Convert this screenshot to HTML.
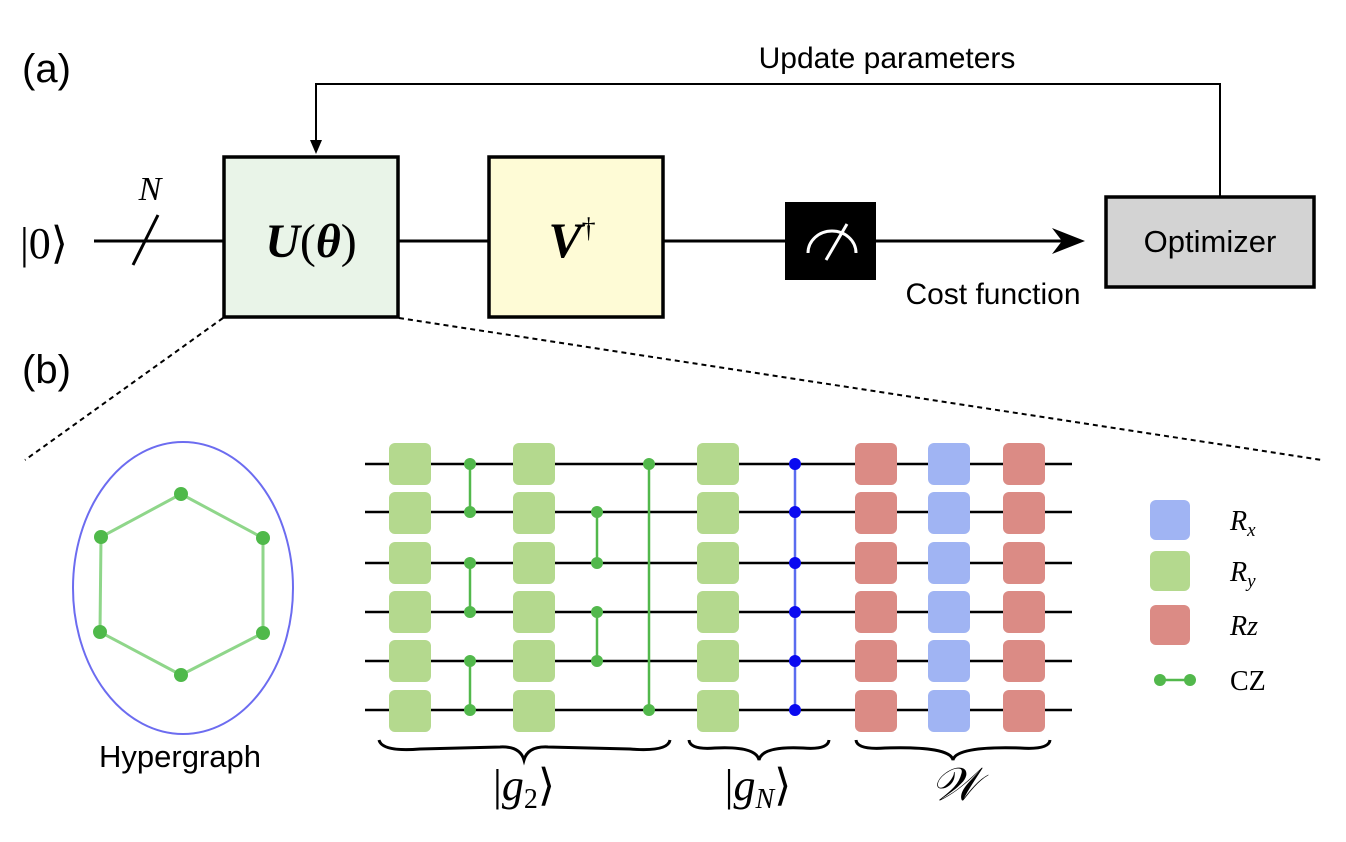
<!DOCTYPE html>
<html><head><meta charset="utf-8"><style>
html,body{margin:0;padding:0;background:#fff;}
svg{display:block;}
.s{font-family:"Liberation Sans",sans-serif;}
.m{font-family:"Liberation Serif",serif;}
</style></head><body>
<svg width="1346" height="842" viewBox="0 0 1346 842" xmlns="http://www.w3.org/2000/svg">
<defs>
<g id="col">
<rect x="0" y="443" width="42" height="42" rx="6"/><rect x="0" y="492" width="42" height="42" rx="6"/>
<rect x="0" y="542" width="42" height="42" rx="6"/><rect x="0" y="591" width="42" height="42" rx="6"/>
<rect x="0" y="640" width="42" height="42" rx="6"/><rect x="0" y="690" width="42" height="42" rx="6"/>
</g>
</defs>
<text x="22" y="82" class="s" font-size="40">(a)</text>
<text x="22" y="383" class="s" font-size="40">(b)</text>
<!-- feedback -->
<polyline points="1220,197 1220,84 316,84 316,144" fill="none" stroke="#000" stroke-width="2"/>
<polygon points="310,140 322,140 316,154" fill="#000"/>
<text x="887" y="68" class="s" font-size="30" text-anchor="middle">Update parameters</text>
<!-- wire -->
<line x1="94" y1="241" x2="1070" y2="241" stroke="#000" stroke-width="3"/>
<polygon points="1085,241 1052,228 1062,241 1052,254" fill="#000"/>
<line x1="133" y1="265" x2="158" y2="215" stroke="#000" stroke-width="3"/>
<text x="150" y="200" class="m" font-size="34" font-style="italic" text-anchor="middle">N</text>
<text x="20" y="258" class="m" font-size="44">|0⟩</text>
<rect x="224" y="157" width="174" height="160" fill="#e9f4e8" stroke="#000" stroke-width="3.5"/>
<text x="311" y="257" class="m" font-size="48" text-anchor="middle"><tspan font-weight="bold" font-style="italic">U</tspan>(<tspan font-weight="bold" font-style="italic">θ</tspan>)</text>
<rect x="489" y="157" width="174" height="160" fill="#fefbd6" stroke="#000" stroke-width="3.5"/>
<text x="572" y="257" class="m" font-size="50" text-anchor="middle"><tspan font-weight="bold" font-style="italic">V</tspan><tspan font-size="28" dy="-20">†</tspan></text>
<rect x="785" y="202" width="91" height="78" fill="#000"/>
<path d="M808,253 A24,22 0 0 1 856,253" fill="none" stroke="#fff" stroke-width="3"/>
<line x1="826" y1="260" x2="847" y2="224" stroke="#fff" stroke-width="3"/>
<text x="993" y="304" class="s" font-size="30" text-anchor="middle">Cost function</text>
<rect x="1106" y="197" width="208" height="90" fill="#d3d3d3" stroke="#000" stroke-width="3.5"/>
<text x="1210" y="252" class="s" font-size="31" text-anchor="middle">Optimizer</text>
<!-- dotted -->
<line x1="223" y1="318" x2="25" y2="460" stroke="#000" stroke-width="2" stroke-dasharray="5,4"/>
<line x1="399" y1="318" x2="1322" y2="460" stroke="#000" stroke-width="2" stroke-dasharray="5,4"/>
<!-- hypergraph -->
<ellipse cx="183" cy="588" rx="110" ry="146" fill="none" stroke="#6c6cf0" stroke-width="2"/>
<polygon points="181,494 263,538 263,633 181,675 100,632 101,537" fill="none" stroke="#8fd68a" stroke-width="3"/>
<g fill="#4fb94a"><circle cx="181" cy="494" r="7"/><circle cx="263" cy="538" r="7"/><circle cx="263" cy="633" r="7"/><circle cx="181" cy="675" r="7"/><circle cx="100" cy="632" r="7"/><circle cx="101" cy="537" r="7"/></g>
<text x="180" y="767" class="s" font-size="31" text-anchor="middle">Hypergraph</text>
<!-- wires -->
<g stroke="#000" stroke-width="2.5">
<line x1="365" y1="464" x2="1072" y2="464"/><line x1="365" y1="512" x2="1072" y2="512"/>
<line x1="365" y1="563" x2="1072" y2="563"/><line x1="365" y1="612" x2="1072" y2="612"/>
<line x1="365" y1="661" x2="1072" y2="661"/><line x1="365" y1="710" x2="1072" y2="710"/>
</g>
<use href="#col" x="389" fill="#b4d98e"/>
<use href="#col" x="513" fill="#b4d98e"/>
<use href="#col" x="697" fill="#b4d98e"/>
<use href="#col" x="855" fill="#db8b85"/>
<use href="#col" x="928" fill="#a0b4f3"/>
<use href="#col" x="1003" fill="#db8b85"/>
<g stroke="#52b84c" stroke-width="2.5">
<line x1="470" y1="464" x2="470" y2="512"/><line x1="470" y1="563" x2="470" y2="612"/><line x1="470" y1="661" x2="470" y2="710"/>
<line x1="597" y1="512" x2="597" y2="563"/><line x1="597" y1="612" x2="597" y2="661"/>
<line x1="649" y1="464" x2="649" y2="710"/>
</g>
<g fill="#52b84c">
<circle cx="470" cy="464" r="6"/><circle cx="470" cy="512" r="6"/><circle cx="470" cy="563" r="6"/><circle cx="470" cy="612" r="6"/><circle cx="470" cy="661" r="6"/><circle cx="470" cy="710" r="6"/>
<circle cx="597" cy="512" r="6"/><circle cx="597" cy="563" r="6"/><circle cx="597" cy="612" r="6"/><circle cx="597" cy="661" r="6"/>
<circle cx="649" cy="464" r="6"/><circle cx="649" cy="710" r="6"/>
</g>
<line x1="795" y1="464" x2="795" y2="710" stroke="#5a6cf0" stroke-width="2.5"/>
<g fill="#0a0af0">
<circle cx="795" cy="464" r="6"/><circle cx="795" cy="512" r="6"/><circle cx="795" cy="563" r="6"/><circle cx="795" cy="612" r="6"/><circle cx="795" cy="661" r="6"/><circle cx="795" cy="710" r="6"/>
</g>
<!-- braces -->
<g fill="none" stroke="#000" stroke-width="3">
<path d="M379,740 Q382,752 420,749 L500,747 Q520,746 524,760 Q528,746 548,747 L630,749 Q668,752 670,740"/>
<path d="M689,740 Q690,750 715,748 Q756,746 759,760 Q762,746 803,748 Q828,750 829,740"/>
<path d="M856,740 Q857,750 885,748 Q950,746 953,760 Q956,746 1020,748 Q1049,750 1050,740"/>
</g>
<text x="524" y="800" class="m" font-size="44" text-anchor="middle">|<tspan font-style="italic">g</tspan><tspan font-size="28" dy="8">2</tspan><tspan dy="-8">⟩</tspan></text>
<text x="758" y="800" class="m" font-size="44" text-anchor="middle">|<tspan font-style="italic">g</tspan><tspan font-size="28" font-style="italic" dy="8">N</tspan><tspan dy="-8">⟩</tspan></text>
<text x="955" y="800" class="m" font-size="46" font-style="italic" text-anchor="middle">𝒲</text>
<!-- legend -->
<rect x="1150" y="500" width="40" height="40" rx="6" fill="#a0b4f3"/>
<rect x="1150" y="551" width="40" height="40" rx="6" fill="#b4d98e"/>
<rect x="1150" y="605" width="40" height="40" rx="6" fill="#db8b85"/>
<line x1="1160" y1="680" x2="1190" y2="680" stroke="#52b84c" stroke-width="2.5"/>
<circle cx="1160" cy="680" r="6" fill="#52b84c"/><circle cx="1190" cy="680" r="6" fill="#52b84c"/>
<g class="m" font-size="28">
<text x="1230" y="530" font-style="italic">R<tspan font-size="19" dy="6">x</tspan></text>
<text x="1230" y="581" font-style="italic">R<tspan font-size="19" dy="6">y</tspan></text>
<text x="1230" y="635" font-style="italic">Rz</text>
<text x="1230" y="690">CZ</text>
</g>
</svg>
</body></html>
